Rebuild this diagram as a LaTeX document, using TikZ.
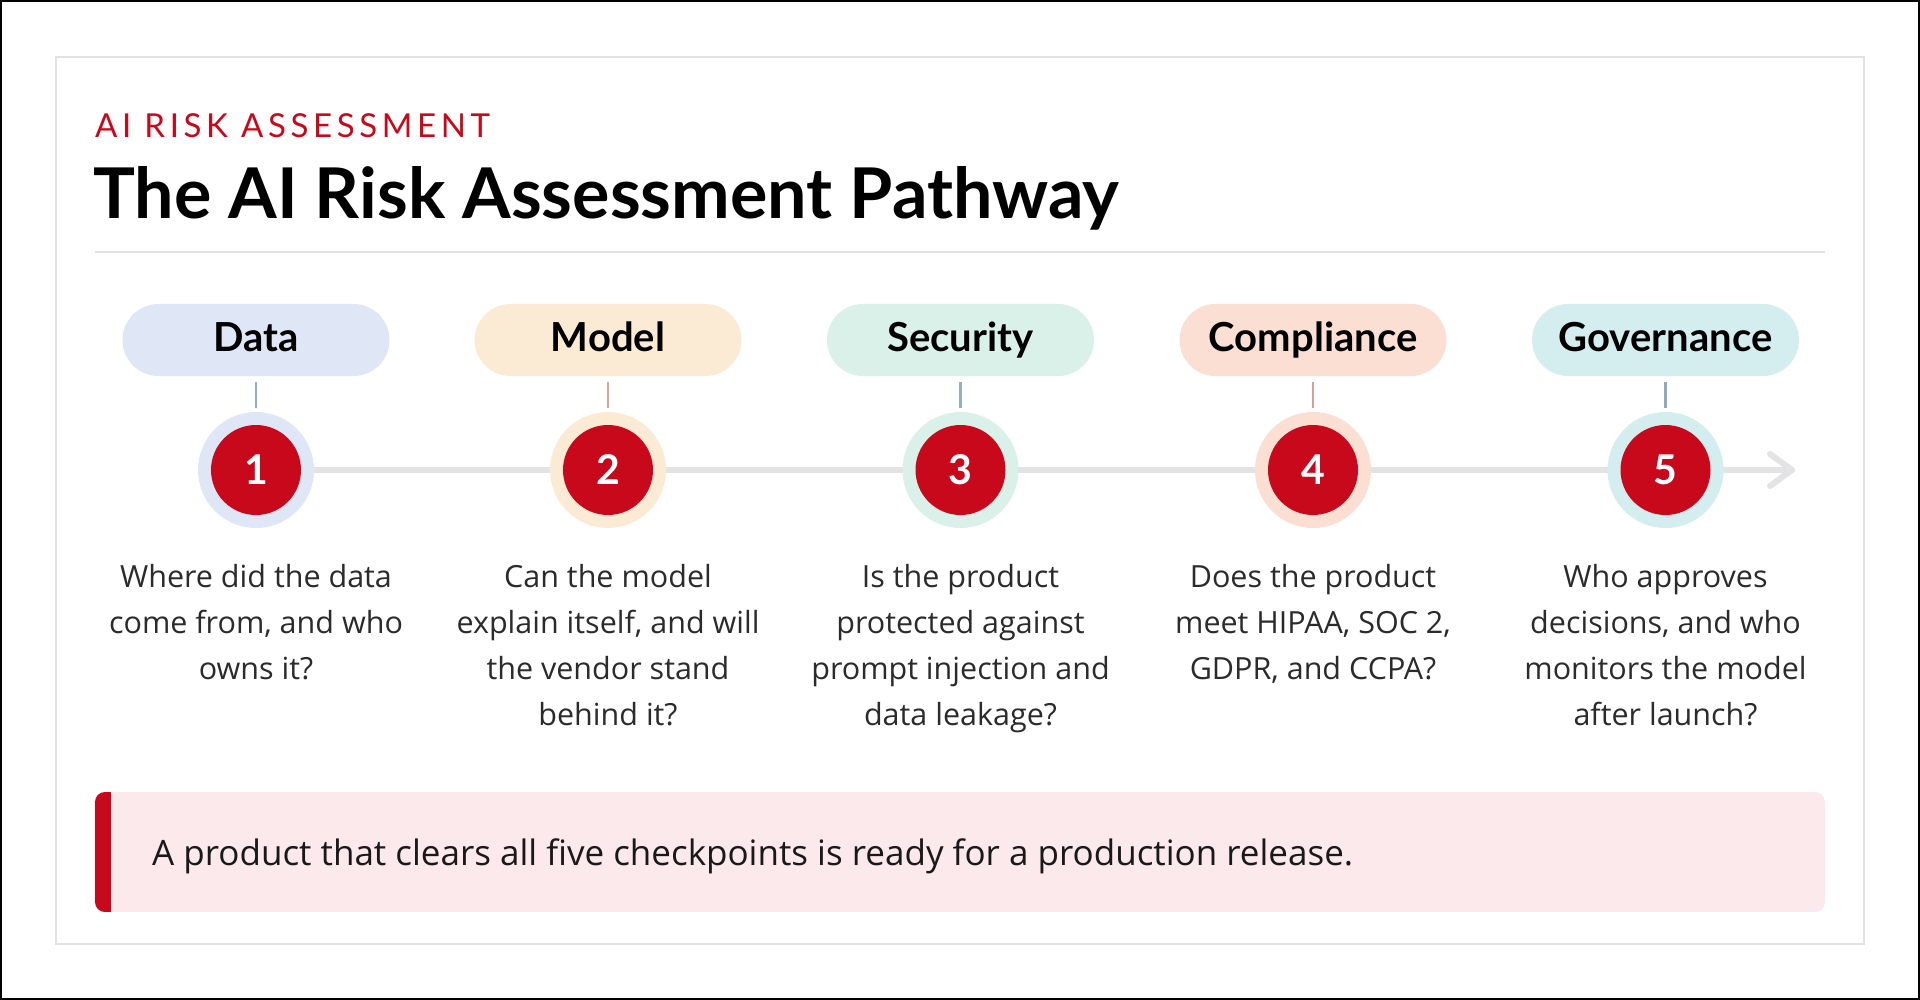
\documentclass[tikz,border=0pt]{standalone}
\usepackage{fontspec}
\setmainfont{Lato}
\newfontfamily\spacedfont[LetterSpace=14]{Lato}
\newfontfamily\bodyfont{Open Sans}
\definecolor{brandred}{HTML}{C8091B}
\definecolor{pillA}{HTML}{DFE6F6}
\definecolor{pillB}{HTML}{FCEBD4}
\definecolor{pillC}{HTML}{DAF1EA}
\definecolor{pillD}{HTML}{FADFD2}
\definecolor{pillE}{HTML}{D4EEEF}
\definecolor{tickA}{HTML}{94AEC6}
\definecolor{tickB}{HTML}{D6A596}
\definecolor{tickC}{HTML}{94AEC6}
\definecolor{tickD}{HTML}{D89C9C}
\definecolor{tickE}{HTML}{8FAABD}
\definecolor{linegray}{HTML}{E3E3E5}
\definecolor{cardline}{HTML}{E2E2E2}
\definecolor{bodytext}{HTML}{2B2B2B}
\definecolor{calloutbg}{HTML}{FBE9EB}
\tikzset{
  pill/.style={rectangle, rounded corners=36pt, minimum width=267pt, minimum height=72pt,
    inner sep=0pt, text height=30pt, text depth=6pt, font=\fontsize{40}{42}\selectfont\bfseries, text=black},
  halo/.style={circle, minimum size=116pt, inner sep=0pt},
  badge/.style={circle, minimum size=90pt, inner sep=0pt, fill=brandred, text=white,
    font=\fontsize{41}{42}\selectfont\bfseries},
  tick/.style={line width=2.5pt},
  desc/.style={align=center, inner sep=0pt, anchor=north, text=bodytext,
    font=\fontsize{30.5}{46}\bodyfont},
  timeline/.style={line width=6pt, linegray, line cap=round, line join=round},
}
\newcommand{\firstline}{\rule{0pt}{24pt}}
\begin{document}
\begin{tikzpicture}[x=1pt, y=-1pt]
\useasboundingbox (0,0) rectangle (1920,1000);
\fill[white] (0,0) rectangle (1920,1000);
\draw[black, line width=2pt] (1,1) rectangle (1919,999);
% card
\draw[cardline, line width=1.5pt, fill=white] (56,57) rectangle (1864,944);
% headings
\node[anchor=base west, inner sep=0pt, text=brandred, font=\fontsize{33}{36}\spacedfont] (kicker) at (95,138) {AI RISK ASSESSMENT};
\node[anchor=base west, inner sep=0pt, text=black, font=\fontsize{70}{74}\selectfont\bfseries] (title) at (93,219) {The AI Risk Assessment Pathway};
\draw[cardline, line width=1.5pt] (95,252) -- (1825,252);
% timeline
\coordinate (tend) at (1792,470);
\draw[timeline] (256,470) -- (tend);
\draw[timeline] ([xshift=-22pt,yshift=16pt]tend) -- (tend) -- ([xshift=-22pt,yshift=-16pt]tend);
% steps
\foreach \i/\x/\pc/\tc/\lab/\txt in {
  1/256/pillA/tickA/Data/{Where did the data\\come from, and who\\owns it?},
  2/608/pillB/tickB/Model/{Can the model\\explain itself, and will\\the vendor stand\\behind it?},
  3/960.5/pillC/tickC/Security/{Is the product\\protected against\\prompt injection and\\data leakage?},
  4/1313/pillD/tickD/Compliance/{Does the product\\meet HIPAA, SOC 2,\\GDPR, and CCPA?},
  5/1665.5/pillE/tickE/Governance/{Who approves\\decisions, and who\\monitors the model\\after launch?}}{
  \node[pill, fill=\pc] (p\i) at (\x,340) {\lab};
  \node[halo, fill=\pc] (h\i) at (\x,470) {};
  \node[badge] (c\i) at (\x,470) {\i};
  \draw[tick, \tc] ([yshift=-6pt]p\i.south) -- ([yshift=4pt]h\i.north);
  \node[desc] (d\i) at (\x,563) {\firstline\txt};
}
% callout
\begin{scope}
  \clip[rounded corners=10pt] (95,792) rectangle (1825,912);
  \fill[calloutbg] (95,792) rectangle (1825,912);
  \fill[brandred] (95,792) rectangle (111,912);
\end{scope}
\node[anchor=base west, inner sep=0pt, text=black!90, font=\fontsize{35}{38}\bodyfont] (callout) at (152,865) {A product that clears all five checkpoints is ready for a production release.};
\end{tikzpicture}
\end{document}
